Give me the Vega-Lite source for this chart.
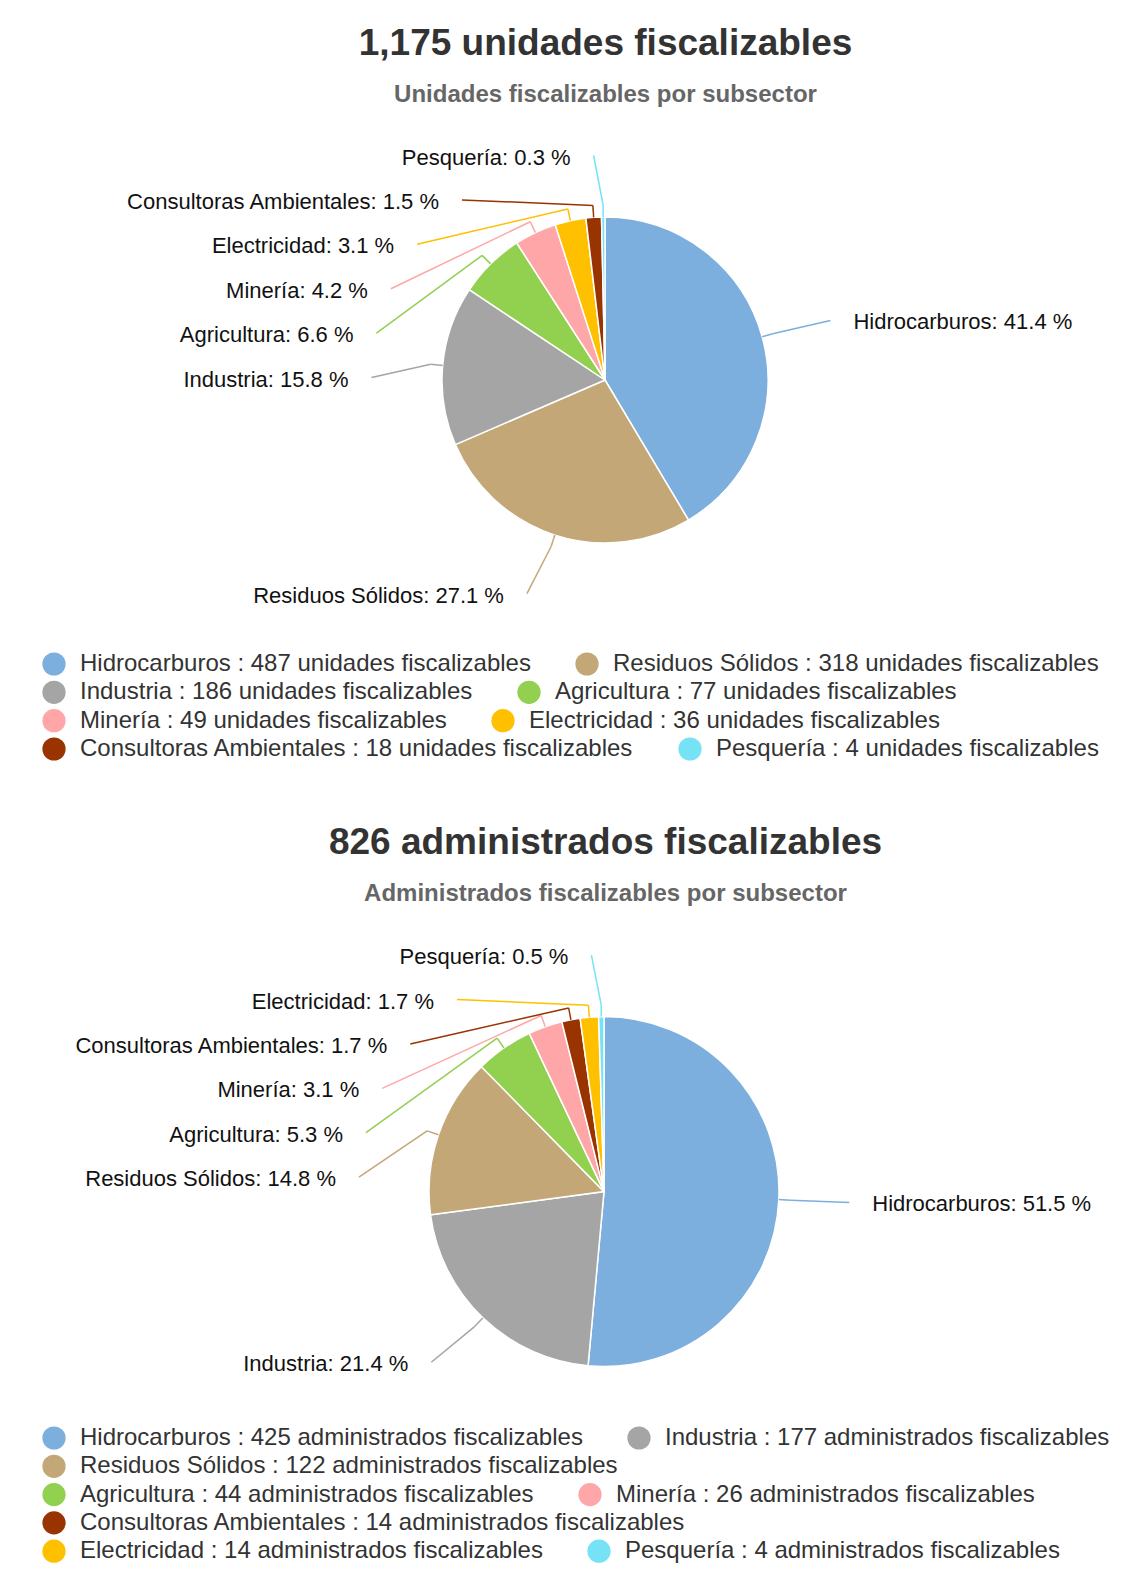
{
  "$schema": "https://vega.github.io/schema/vega-lite/v6.json",
  "padding": {"top": 25, "left": 0, "right": 0, "bottom": 0},
  "spacing": 41,
  "background": "white",
  "config": {
    "view": {"stroke": null},
    "font": "Liberation Sans",
    "title": {"font": "Liberation Sans", "fontSize": 37, "fontWeight": "bold", "color": "#333333", "subtitleFont": "Liberation Sans", "subtitleFontSize": 24, "subtitleFontWeight": "bold", "subtitleColor": "#666666", "subtitlePadding": 20, "offset": 10, "anchor": "middle", "dx": 42},
    "legend": {"orient": "none", "direction": "horizontal", "columns": 2, "gridAlign": "none", "symbolType": "circle", "symbolSize": 540, "symbolStrokeWidth": 0, "symbolOpacity": 1, "labelFont": "Liberation Sans", "labelFontSize": 24, "labelColor": "#333333", "labelLimit": 2000, "labelOffset": 14, "columnPadding": 44, "rowPadding": 4.3, "padding": 0, "title": null}
  },
  "resolve": {"scale": {"x": "independent", "y": "independent", "color": "independent", "theta": "independent", "stroke": "independent"}, "legend": {"color": "independent"}},
  "vconcat": [
    {
      "title": {"text": "1,175 unidades fiscalizables", "subtitle": "Unidades fiscalizables por subsector"},
      "width": 1127,
      "height": 665,
      "data": {"values": [
        {"sector": "Hidrocarburos", "count": 487},
        {"sector": "Residuos Sólidos", "count": 318},
        {"sector": "Industria", "count": 186},
        {"sector": "Agricultura", "count": 77},
        {"sector": "Minería", "count": 49},
        {"sector": "Electricidad", "count": 36},
        {"sector": "Consultoras Ambientales", "count": 18},
        {"sector": "Pesquería", "count": 4}
      ]},
      "transform": [
        {"window": [{"op": "row_number", "as": "idx"}]},
        {"window": [{"op": "sum", "field": "count", "as": "cum"}], "sort": [{"field": "idx"}], "frame": [null, 0]},
        {"joinaggregate": [{"op": "sum", "field": "count", "as": "total"}]},
        {"calculate": "2*PI*(datum.cum - datum.count/2)/datum.total", "as": "a"},
        {"calculate": "100*datum.count/datum.total", "as": "pct"},
        {"calculate": "sin(datum.a) >= 0 ? 1 : -1", "as": "side"},
        {"calculate": "-224.5*cos(datum.a)", "as": "nat"},
        {"window": [{"op": "row_number", "as": "j"}], "groupby": ["side"], "sort": [{"field": "nat"}]},
        {"calculate": "datum.nat - 44.4*(datum.j - 1)", "as": "v"},
        {"window": [{"op": "max", "field": "v", "as": "vm"}], "groupby": ["side"], "sort": [{"field": "nat"}], "frame": [null, 0]},
        {"calculate": "datum.vm + 44.4*(datum.j - 1)", "as": "ly"},
        {"calculate": "datum.side*sqrt(max(0, 224.5*224.5 - datum.ly*datum.ly))", "as": "lx"},
        {"calculate": "datum.lx + datum.side*9", "as": "cx2"},
        {"calculate": "163*sin(datum.a)", "as": "ex"},
        {"calculate": "-163*cos(datum.a)", "as": "ey"},
        {"calculate": "175*sin(datum.a)", "as": "bx"},
        {"calculate": "-175*cos(datum.a)", "as": "by"},
        {"calculate": "datum.sector + ': ' + format(datum.pct, '.1f') + ' %'", "as": "lab"},
        {"calculate": "datum.sector + ' : ' + datum.count + ' unidades fiscalizables'", "as": "leg"}
      ],
      "resolve": {"scale": {"color": "independent"}, "legend": {"color": "independent"}},
      "layer": [
        {
          "mark": {"type": "arc", "outerRadius": 163, "stroke": "white", "strokeWidth": 1.5},
          "encoding": {
            "x": {"datum": 0, "type": "quantitative", "scale": {"domain": [-605, 522]}, "axis": null},
            "y": {"datum": 0, "type": "quantitative", "scale": {"domain": [-262, 403], "reverse": true}, "axis": null},
            "theta": {"field": "count", "type": "quantitative", "stack": true},
            "order": {"field": "idx", "type": "quantitative"},
            "color": {"field": "leg", "type": "nominal", "sort": {"field": "idx", "op": "min"},
              "scale": {"range": ["#7cafdd", "#c4a777", "#a5a5a5", "#92d050", "#ffa6a8", "#ffc000", "#993300", "#75e2f6"]},
              "legend": {"legendX": 42, "legendY": 534, "values": ["Hidrocarburos : 487 unidades fiscalizables", "Residuos Sólidos : 318 unidades fiscalizables"]}}
          }
        },
        {
          "mark": {"type": "point", "filled": true, "opacity": 0},
          "encoding": {
            "x": {"datum": 0, "type": "quantitative", "scale": {"domain": [-605, 522]}, "axis": null},
            "y": {"datum": 0, "type": "quantitative", "scale": {"domain": [-262, 403], "reverse": true}, "axis": null},
            "color": {"field": "leg", "type": "nominal", "sort": {"field": "idx", "op": "min"},
              "scale": {"range": ["#7cafdd", "#c4a777", "#a5a5a5", "#92d050", "#ffa6a8", "#ffc000", "#993300", "#75e2f6"]},
              "legend": {"legendX": 42, "legendY": 562.3, "symbolOpacity": 1, "values": ["Industria : 186 unidades fiscalizables", "Agricultura : 77 unidades fiscalizables"]}}
          }
        },
        {
          "mark": {"type": "point", "filled": true, "opacity": 0},
          "encoding": {
            "x": {"datum": 0, "type": "quantitative", "scale": {"domain": [-605, 522]}, "axis": null},
            "y": {"datum": 0, "type": "quantitative", "scale": {"domain": [-262, 403], "reverse": true}, "axis": null},
            "color": {"field": "leg", "type": "nominal", "sort": {"field": "idx", "op": "min"},
              "scale": {"range": ["#7cafdd", "#c4a777", "#a5a5a5", "#92d050", "#ffa6a8", "#ffc000", "#993300", "#75e2f6"]},
              "legend": {"legendX": 42, "legendY": 590.7, "symbolOpacity": 1, "values": ["Minería : 49 unidades fiscalizables", "Electricidad : 36 unidades fiscalizables"]}}
          }
        },
        {
          "mark": {"type": "point", "filled": true, "opacity": 0},
          "encoding": {
            "x": {"datum": 0, "type": "quantitative", "scale": {"domain": [-605, 522]}, "axis": null},
            "y": {"datum": 0, "type": "quantitative", "scale": {"domain": [-262, 403], "reverse": true}, "axis": null},
            "color": {"field": "leg", "type": "nominal", "sort": {"field": "idx", "op": "min"},
              "scale": {"range": ["#7cafdd", "#c4a777", "#a5a5a5", "#92d050", "#ffa6a8", "#ffc000", "#993300", "#75e2f6"]},
              "legend": {"legendX": 42, "legendY": 619, "symbolOpacity": 1, "values": ["Consultoras Ambientales : 18 unidades fiscalizables", "Pesquería : 4 unidades fiscalizables"]}}
          }
        },
        {
          "mark": {"type": "rule", "strokeWidth": 1.5},
          "encoding": {
            "x": {"field": "ex", "type": "quantitative", "scale": {"domain": [-605, 522]}, "axis": null},
            "y": {"field": "ey", "type": "quantitative", "scale": {"domain": [-262, 403], "reverse": true}, "axis": null},
            "x2": {"field": "bx"},
            "y2": {"field": "by"},
            "stroke": {"field": "sector", "type": "nominal", "legend": null,
              "scale": {"domain": ["Hidrocarburos", "Residuos Sólidos", "Industria", "Agricultura", "Minería", "Electricidad", "Consultoras Ambientales", "Pesquería"], "range": ["#7cafdd", "#c4a777", "#a5a5a5", "#92d050", "#ffa6a8", "#ffc000", "#993300", "#75e2f6"]}}
          }
        },
        {
          "mark": {"type": "rule", "strokeWidth": 1.5},
          "encoding": {
            "x": {"field": "bx", "type": "quantitative", "scale": {"domain": [-605, 522]}, "axis": null},
            "y": {"field": "by", "type": "quantitative", "scale": {"domain": [-262, 403], "reverse": true}, "axis": null},
            "x2": {"field": "cx2"},
            "y2": {"field": "ly"},
            "stroke": {"field": "sector", "type": "nominal", "legend": null}
          }
        },
        {
          "transform": [{"filter": "datum.side < 0"}],
          "mark": {"type": "text", "align": "right", "baseline": "middle", "dx": -32, "dy": 2, "fontSize": 22, "font": "Liberation Sans", "color": "#111111"},
          "encoding": {
            "x": {"field": "lx", "type": "quantitative", "scale": {"domain": [-605, 522]}, "axis": null},
            "y": {"field": "ly", "type": "quantitative", "scale": {"domain": [-262, 403], "reverse": true}, "axis": null},
            "text": {"field": "lab"}
          }
        },
        {
          "transform": [{"filter": "datum.side > 0"}],
          "mark": {"type": "text", "align": "left", "baseline": "middle", "dx": 32, "dy": 2, "fontSize": 22, "font": "Liberation Sans", "color": "#111111"},
          "encoding": {
            "x": {"field": "lx", "type": "quantitative", "scale": {"domain": [-605, 522]}, "axis": null},
            "y": {"field": "ly", "type": "quantitative", "scale": {"domain": [-262, 403], "reverse": true}, "axis": null},
            "text": {"field": "lab"}
          }
        }
      ]
    },
    {
      "title": {"text": "826 administrados fiscalizables", "subtitle": "Administrados fiscalizables por subsector"},
      "width": 1127,
      "height": 662,
      "data": {"values": [
        {"sector": "Hidrocarburos", "count": 425},
        {"sector": "Industria", "count": 177},
        {"sector": "Residuos Sólidos", "count": 122},
        {"sector": "Agricultura", "count": 44},
        {"sector": "Minería", "count": 26},
        {"sector": "Consultoras Ambientales", "count": 14},
        {"sector": "Electricidad", "count": 14},
        {"sector": "Pesquería", "count": 4}
      ]},
      "transform": [
        {"window": [{"op": "row_number", "as": "idx"}]},
        {"window": [{"op": "sum", "field": "count", "as": "cum"}], "sort": [{"field": "idx"}], "frame": [null, 0]},
        {"joinaggregate": [{"op": "sum", "field": "count", "as": "total"}]},
        {"calculate": "2*PI*(datum.cum - datum.count/2)/datum.total", "as": "a"},
        {"calculate": "100*datum.count/datum.total", "as": "pct"},
        {"calculate": "sin(datum.a) >= 0 ? 1 : -1", "as": "side"},
        {"calculate": "-236.5*cos(datum.a)", "as": "nat"},
        {"window": [{"op": "row_number", "as": "j"}], "groupby": ["side"], "sort": [{"field": "nat"}]},
        {"calculate": "datum.nat - 44.4*(datum.j - 1)", "as": "v"},
        {"window": [{"op": "max", "field": "v", "as": "vm"}], "groupby": ["side"], "sort": [{"field": "nat"}], "frame": [null, 0]},
        {"calculate": "datum.vm + 44.4*(datum.j - 1)", "as": "ly"},
        {"calculate": "datum.side*sqrt(max(0, 236.5*236.5 - datum.ly*datum.ly))", "as": "lx"},
        {"calculate": "datum.lx + datum.side*9", "as": "cx2"},
        {"calculate": "175*sin(datum.a)", "as": "ex"},
        {"calculate": "-175*cos(datum.a)", "as": "ey"},
        {"calculate": "187*sin(datum.a)", "as": "bx"},
        {"calculate": "-187*cos(datum.a)", "as": "by"},
        {"calculate": "datum.sector + ': ' + format(datum.pct, '.1f') + ' %'", "as": "lab"},
        {"calculate": "datum.sector + ' : ' + datum.count + ' administrados fiscalizables'", "as": "leg"}
      ],
      "resolve": {"scale": {"color": "independent"}, "legend": {"color": "independent"}},
      "layer": [
        {
          "mark": {"type": "arc", "outerRadius": 175, "stroke": "white", "strokeWidth": 1.5},
          "encoding": {
            "x": {"datum": 0, "type": "quantitative", "scale": {"domain": [-604, 523]}, "axis": null},
            "y": {"datum": 0, "type": "quantitative", "scale": {"domain": [-274.6, 387.4], "reverse": true}, "axis": null},
            "theta": {"field": "count", "type": "quantitative", "stack": true},
            "order": {"field": "idx", "type": "quantitative"},
            "color": {"field": "leg", "type": "nominal", "sort": {"field": "idx", "op": "min"},
              "scale": {"range": ["#7cafdd", "#a5a5a5", "#c4a777", "#92d050", "#ffa6a8", "#993300", "#ffc000", "#75e2f6"]},
              "legend": {"legendX": 42, "legendY": 509, "values": ["Hidrocarburos : 425 administrados fiscalizables", "Industria : 177 administrados fiscalizables"]}}
          }
        },
        {
          "mark": {"type": "point", "filled": true, "opacity": 0},
          "encoding": {
            "x": {"datum": 0, "type": "quantitative", "scale": {"domain": [-604, 523]}, "axis": null},
            "y": {"datum": 0, "type": "quantitative", "scale": {"domain": [-274.6, 387.4], "reverse": true}, "axis": null},
            "color": {"field": "leg", "type": "nominal", "sort": {"field": "idx", "op": "min"},
              "scale": {"range": ["#7cafdd", "#a5a5a5", "#c4a777", "#92d050", "#ffa6a8", "#993300", "#ffc000", "#75e2f6"]},
              "legend": {"legendX": 42, "legendY": 537.3, "symbolOpacity": 1, "values": ["Residuos Sólidos : 122 administrados fiscalizables"]}}
          }
        },
        {
          "mark": {"type": "point", "filled": true, "opacity": 0},
          "encoding": {
            "x": {"datum": 0, "type": "quantitative", "scale": {"domain": [-604, 523]}, "axis": null},
            "y": {"datum": 0, "type": "quantitative", "scale": {"domain": [-274.6, 387.4], "reverse": true}, "axis": null},
            "color": {"field": "leg", "type": "nominal", "sort": {"field": "idx", "op": "min"},
              "scale": {"range": ["#7cafdd", "#a5a5a5", "#c4a777", "#92d050", "#ffa6a8", "#993300", "#ffc000", "#75e2f6"]},
              "legend": {"legendX": 42, "legendY": 565.6, "symbolOpacity": 1, "values": ["Agricultura : 44 administrados fiscalizables", "Minería : 26 administrados fiscalizables"]}}
          }
        },
        {
          "mark": {"type": "point", "filled": true, "opacity": 0},
          "encoding": {
            "x": {"datum": 0, "type": "quantitative", "scale": {"domain": [-604, 523]}, "axis": null},
            "y": {"datum": 0, "type": "quantitative", "scale": {"domain": [-274.6, 387.4], "reverse": true}, "axis": null},
            "color": {"field": "leg", "type": "nominal", "sort": {"field": "idx", "op": "min"},
              "scale": {"range": ["#7cafdd", "#a5a5a5", "#c4a777", "#92d050", "#ffa6a8", "#993300", "#ffc000", "#75e2f6"]},
              "legend": {"legendX": 42, "legendY": 593.9, "symbolOpacity": 1, "values": ["Consultoras Ambientales : 14 administrados fiscalizables"]}}
          }
        },
        {
          "mark": {"type": "point", "filled": true, "opacity": 0},
          "encoding": {
            "x": {"datum": 0, "type": "quantitative", "scale": {"domain": [-604, 523]}, "axis": null},
            "y": {"datum": 0, "type": "quantitative", "scale": {"domain": [-274.6, 387.4], "reverse": true}, "axis": null},
            "color": {"field": "leg", "type": "nominal", "sort": {"field": "idx", "op": "min"},
              "scale": {"range": ["#7cafdd", "#a5a5a5", "#c4a777", "#92d050", "#ffa6a8", "#993300", "#ffc000", "#75e2f6"]},
              "legend": {"legendX": 42, "legendY": 622.2, "symbolOpacity": 1, "values": ["Electricidad : 14 administrados fiscalizables", "Pesquería : 4 administrados fiscalizables"]}}
          }
        },
        {
          "mark": {"type": "rule", "strokeWidth": 1.5},
          "encoding": {
            "x": {"field": "ex", "type": "quantitative", "scale": {"domain": [-604, 523]}, "axis": null},
            "y": {"field": "ey", "type": "quantitative", "scale": {"domain": [-274.6, 387.4], "reverse": true}, "axis": null},
            "x2": {"field": "bx"},
            "y2": {"field": "by"},
            "stroke": {"field": "sector", "type": "nominal", "legend": null,
              "scale": {"domain": ["Hidrocarburos", "Residuos Sólidos", "Industria", "Agricultura", "Minería", "Electricidad", "Consultoras Ambientales", "Pesquería"], "range": ["#7cafdd", "#c4a777", "#a5a5a5", "#92d050", "#ffa6a8", "#ffc000", "#993300", "#75e2f6"]}}
          }
        },
        {
          "mark": {"type": "rule", "strokeWidth": 1.5},
          "encoding": {
            "x": {"field": "bx", "type": "quantitative", "scale": {"domain": [-604, 523]}, "axis": null},
            "y": {"field": "by", "type": "quantitative", "scale": {"domain": [-274.6, 387.4], "reverse": true}, "axis": null},
            "x2": {"field": "cx2"},
            "y2": {"field": "ly"},
            "stroke": {"field": "sector", "type": "nominal", "legend": null}
          }
        },
        {
          "transform": [{"filter": "datum.side < 0"}],
          "mark": {"type": "text", "align": "right", "baseline": "middle", "dx": -32, "dy": 2, "fontSize": 22, "font": "Liberation Sans", "color": "#111111"},
          "encoding": {
            "x": {"field": "lx", "type": "quantitative", "scale": {"domain": [-604, 523]}, "axis": null},
            "y": {"field": "ly", "type": "quantitative", "scale": {"domain": [-274.6, 387.4], "reverse": true}, "axis": null},
            "text": {"field": "lab"}
          }
        },
        {
          "transform": [{"filter": "datum.side > 0"}],
          "mark": {"type": "text", "align": "left", "baseline": "middle", "dx": 32, "dy": 2, "fontSize": 22, "font": "Liberation Sans", "color": "#111111"},
          "encoding": {
            "x": {"field": "lx", "type": "quantitative", "scale": {"domain": [-604, 523]}, "axis": null},
            "y": {"field": "ly", "type": "quantitative", "scale": {"domain": [-274.6, 387.4], "reverse": true}, "axis": null},
            "text": {"field": "lab"}
          }
        }
      ]
    }
  ]
}
